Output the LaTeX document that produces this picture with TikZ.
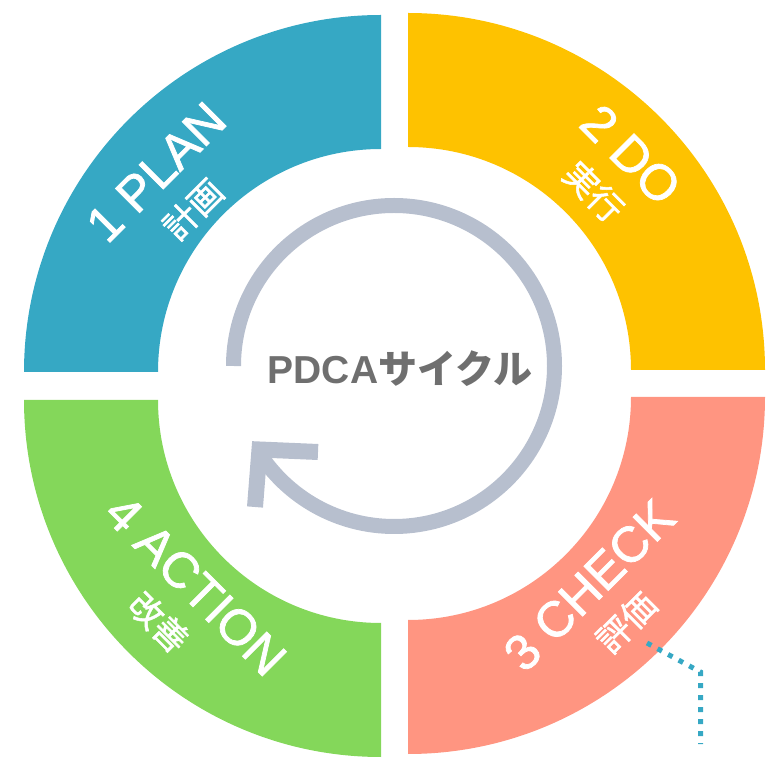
\documentclass[tikz,border=0pt]{standalone}
\usepackage{fontspec}
\setmainfont{Liberation Sans}
\newfontfamily\jpfont{Noto Sans CJK JP}
\newfontfamily\phasefont{Liberation Sans}[FakeBold=1.5]
\newfontfamily\phasejpfont{Noto Sans CJK JP}[FakeBold=1.5]
\definecolor{planc}{HTML}{36A8C4}
\definecolor{doc}{HTML}{FEC200}
\definecolor{checkc}{HTML}{FF9581}
\definecolor{actc}{HTML}{84D75A}
\definecolor{cyclec}{HTML}{B7BFCE}
\definecolor{titlec}{HTML}{6F6F6F}
\tikzset{
  phase/.style={text=white, align=center, inner sep=0pt, font=\phasefont\fontsize{50}{48}\selectfont},
  cyclearrow/.style={draw=cyclec, line width=15pt},
  callout/.style={draw=planc, line width=5pt, dash pattern=on 5pt off 7pt},
}
\newcommand{\kanji}[1]{{\phasejpfont\fontsize{34}{34}\selectfont #1}}
\begin{document}
\begin{tikzpicture}[x=1pt,y=1pt]
\useasboundingbox (0,0) rectangle (782,758);
% ring segments
\foreach \cx/\cy/\a/\col in {381/386/90/planc, 408/388/0/doc, 408/361/270/checkc, 381/358/180/actc}
  \fill[\col, shift={(\cx,\cy)}] (\a:357pt) arc[start angle=\a, end angle=\a+90, radius=357pt]
    -- (\a+90:223pt) arc[start angle=\a+90, end angle=\a, radius=223pt] -- cycle;
% cycle arrow
\draw[cyclearrow] (394,392) ++(180:160.5pt) arc[start angle=180, end angle=-148, radius=160.5pt];
\draw[cyclearrow, line width=16pt, line join=miter] (318,306) -- (259.5,308.5) -- (255,251);
\node[text=titlec, inner sep=0pt, font=\fontsize{39}{39}\selectfont\bfseries] (pdca) at (400,389) {PDCA{\jpfont サイクル}};
% labels
\node[phase, rotate=45] (plan) at (174,568) {1 PLAN\\\kanji{計画}};
\node[phase, rotate=-45] (do) at (613,585.5) {2 DO\\\kanji{実行}};
\node[phase, rotate=45] (check) at (607,155) {3 CHECK\\\kanji{評価}};
\node[phase, rotate=-45] (act) at (178,155) {4 ACTION\\\kanji{改善}};
% callout
\coordinate (cs) at (647,115);
\coordinate (cb) at (700.5,86);
\coordinate (ce) at (700.5,14);
\draw[callout] (cs) -- (cb) -- (ce);
\end{tikzpicture}
\end{document}
